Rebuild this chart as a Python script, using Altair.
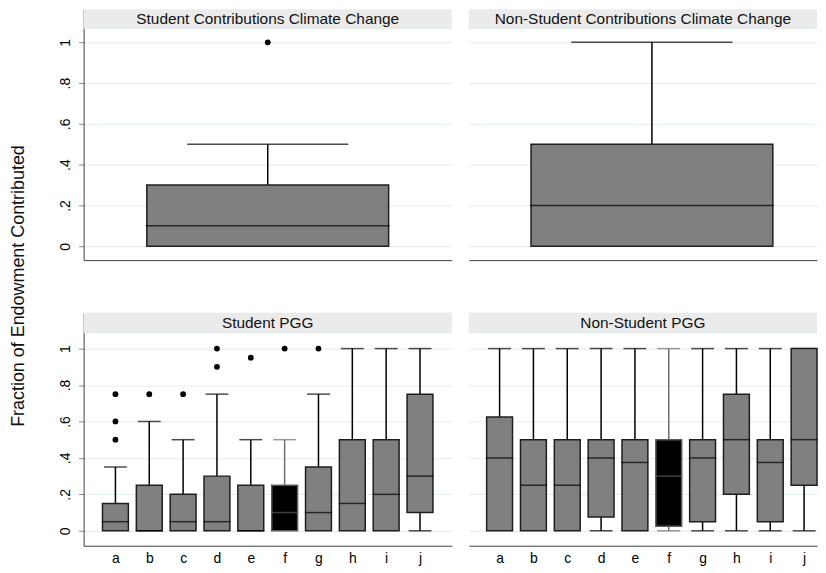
import altair as alt
import pandas as pd

FONT = "Liberation Sans"

# ---- data ----
y_title = "Fraction of Endowment Contributed"
panel_titles = ["Student Contributions Climate Change",
                "Non-Student Contributions Climate Change",
                "Student PGG", "Non-Student PGG"]

cats = list("abcdefghij")

# Top panels (single box each)
scc_lo, scc_q1, scc_med, scc_q3, scc_hi = [0.0], [0.0], [0.1], [0.3], [0.5]
scc_out = [1.0]
ncc_lo, ncc_q1, ncc_med, ncc_q3, ncc_hi = [0.0], [0.0], [0.2], [0.5], [1.0]
ncc_out = []

# Student PGG
sp_lo = [0, 0, 0, 0, 0, 0, 0, 0, 0, 0]
sp_q1 = [0, 0, 0, 0, 0, 0, 0, 0, 0, 0.1]
sp_med = [0.05, 0, 0.05, 0.05, 0, 0.1, 0.1, 0.15, 0.2, 0.3]
sp_q3 = [0.15, 0.25, 0.2, 0.3, 0.25, 0.25, 0.35, 0.5, 0.5, 0.75]
sp_hi = [0.35, 0.6, 0.5, 0.75, 0.5, 0.5, 0.75, 1, 1, 1]
sp_out_cat = ["a", "a", "a", "b", "c", "d", "d", "e", "f", "g"]
sp_out_val = [0.5, 0.6, 0.75, 0.75, 0.75, 0.9, 1.0, 0.95, 1.0, 1.0]

# Non-Student PGG
np_lo = [0, 0, 0, 0, 0, 0, 0, 0, 0, 0]
np_q1 = [0, 0, 0, 0.075, 0, 0.025, 0.05, 0.2, 0.05, 0.25]
np_med = [0.4, 0.25, 0.25, 0.4, 0.375, 0.3, 0.4, 0.5, 0.375, 0.5]
np_q3 = [0.625, 0.5, 0.5, 0.5, 0.5, 0.5, 0.5, 0.75, 0.5, 1]
np_hi = [1, 1, 1, 1, 1, 1, 1, 1, 1, 1]

# ---- styling ----
BOX_FILL = "#808080"
BOX_STROKE = "#1e1e1e"
HL = "f"
GRID = "#e2ecee"
STRIP = "#ebebeb"
AXIS_LINE = "#404040"


def stats_df(c, lo, q1, med, q3, hi):
    return pd.DataFrame({"cat": c, "lo": lo, "q1": q1, "med": med, "q3": q3, "hi": hi})


def panel(stats, outs, title, width, height, strip_h, ydom, grid_vals,
          left_axis, bottom_labels, xdomain, xpad, xalign, box_w, cap_w, med_w):
    is_hl = alt.datum.cat == HL
    if bottom_labels:
        xaxis = alt.Axis(title=None, labelAngle=0, ticks=False, tickSize=0,
                         labelPadding=6, labelFontSize=14, labelFont=FONT,
                         labelColor="#000000", domainColor=AXIS_LINE,
                         domainWidth=1, grid=False, zindex=0)
    else:
        xaxis = alt.Axis(title=None, labels=False, ticks=False, tickSize=0,
                         domainColor=AXIS_LINE, domainWidth=1, grid=False, zindex=0)
    x = alt.X("cat:N", scale=alt.Scale(type="point", domain=xdomain,
                                       padding=xpad, align=xalign), axis=xaxis)
    if left_axis:
        yaxis = alt.Axis(title=None, values=grid_vals, grid=True, gridColor=GRID,
                         gridWidth=1, labelAngle=270, labelAlign="center",
                         labelBaseline="alphabetic", labelPadding=9,
                         labelFontSize=14, labelFont=FONT, labelColor="#000000",
                         labelExpr="datum.value < 0.01 ? '0' : (datum.value > 0.99 ? '1' : '.' + round(datum.value * 10))",
                         tickSize=5, tickColor="#8a8a8a", domainColor=AXIS_LINE,
                         domainWidth=1, zindex=0)
    else:
        yaxis = alt.Axis(title=None, values=grid_vals, grid=True, gridColor=GRID,
                         gridWidth=1, labels=False, ticks=False, domain=False,
                         minExtent=0, maxExtent=0, zindex=0)
    yscale = alt.Scale(domain=ydom, nice=False, zero=False)

    base = alt.Chart(stats)
    upper = base.mark_rule(strokeWidth=1.5).encode(
        x=x, y=alt.Y("q3:Q", scale=yscale, axis=yaxis), y2="hi:Q",
        color=alt.condition(is_hl, alt.value("#6e6e6e"), alt.value("#000000")))
    lower = base.transform_filter("datum.lo < datum.q1").mark_rule(strokeWidth=1.5).encode(
        x=x, y=alt.Y("lo:Q", scale=yscale), y2="q1:Q",
        color=alt.condition(is_hl, alt.value("#6e6e6e"), alt.value("#000000")))
    cap_hi = base.mark_tick(size=cap_w, thickness=1.5).encode(
        x=x, y=alt.Y("hi:Q", scale=yscale),
        color=alt.condition(is_hl, alt.value("#6e6e6e"), alt.value("#000000")))
    cap_lo = base.transform_filter("datum.lo < datum.q1").mark_tick(size=cap_w, thickness=1.5).encode(
        x=x, y=alt.Y("lo:Q", scale=yscale),
        color=alt.condition(is_hl, alt.value("#6e6e6e"), alt.value("#000000")))
    box = base.mark_bar(size=box_w, strokeWidth=1.5).encode(
        x=x, y=alt.Y("q1:Q", scale=yscale), y2="q3:Q",
        fill=alt.condition(is_hl, alt.value("#000000"), alt.value(BOX_FILL)),
        stroke=alt.condition(is_hl, alt.value("#5a5a5a"), alt.value(BOX_STROKE)))
    med = base.mark_tick(size=med_w, thickness=1.5).encode(
        x=x, y=alt.Y("med:Q", scale=yscale),
        color=alt.condition(is_hl, alt.value("#5a5a5a"), alt.value("#000000")))
    layers = [upper, lower, cap_hi, cap_lo, box, med]
    if len(outs) > 0:
        pts = alt.Chart(outs).mark_circle(size=34, opacity=1, color="#000000").encode(
            x=x, y=alt.Y("val:Q", scale=yscale))
        layers.append(pts)
    tdf = pd.DataFrame({"t": [title]})
    strip = alt.Chart(tdf).mark_rect(color=STRIP).encode(
        x=alt.value(0), x2=alt.value(width), y=alt.value(0), y2=alt.value(strip_h))
    strip_line = alt.Chart(tdf).mark_rule(color="#dfeaec", strokeWidth=1).encode(
        x=alt.value(0), x2=alt.value(width), y=alt.value(strip_h))
    strip_txt = alt.Chart(tdf).mark_text(fontSize=15.5, font=FONT, color="#111111",
                                         baseline="middle").encode(
        text="t:N", x=alt.value(width / 2), y=alt.value(strip_h / 2 + 0.5))
    layers += [strip, strip_line, strip_txt]
    return alt.layer(*layers).properties(width=width, height=height)


tl = panel(stats_df(["all"], scc_lo, scc_q1, scc_med, scc_q3, scc_hi),
           pd.DataFrame({"cat": ["all"] * len(scc_out), "val": scc_out}),
           panel_titles[0], 370, 252, 19, [-0.068, 1.1613],
           [0, 0.2, 0.4, 0.6, 0.8, 1.0], True, False, ["all"], 0.5, 0.5, 243, 162, 245)
tr = panel(stats_df(["all"], ncc_lo, ncc_q1, ncc_med, ncc_q3, ncc_hi),
           pd.DataFrame({"cat": [], "val": []}),
           panel_titles[1], 350, 252, 19, [-0.068, 1.1613],
           [0, 0.2, 0.4, 0.6, 0.8, 1.0], False, False, ["all"], 0.5, 0.526, 243, 162, 245)
bl = panel(stats_df(cats, sp_lo, sp_q1, sp_med, sp_q3, sp_hi),
           pd.DataFrame({"cat": sp_out_cat, "val": sp_out_val}),
           panel_titles[2], 370, 234, 20, [-0.082, 1.196],
           [0, 0.2, 0.4, 0.6, 0.8, 1.0], True, True, cats, 0.94, 0.5, 26, 23, 27)
br = panel(stats_df(cats, np_lo, np_q1, np_med, np_q3, np_hi),
           pd.DataFrame({"cat": [], "val": []}),
           panel_titles[3], 350, 234, 20, [-0.082, 1.196],
           [0, 0.1, 0.2, 0.3, 0.4, 0.5, 0.6, 0.7, 0.8, 0.9, 1.0], False, True,
           cats, 0.647, 0.705, 26, 23, 27)

grid = alt.vconcat(alt.hconcat(tl, tr, spacing=15),
                   alt.hconcat(bl, br, spacing=15), spacing=53)

ytitle = alt.Chart(pd.DataFrame({"t": [y_title]})).mark_text(
    angle=270, fontSize=18, font=FONT, color="#111111", baseline="middle").encode(
    text="t:N", x=alt.value(11), y=alt.value(278)).properties(width=51, height=540)

chart = alt.hconcat(ytitle, grid, spacing=0).properties(
    padding=0, background="#ffffff").configure_view(strokeWidth=0)

chart.save("out.html", embed_options={"renderer": "svg", "actions": False})
